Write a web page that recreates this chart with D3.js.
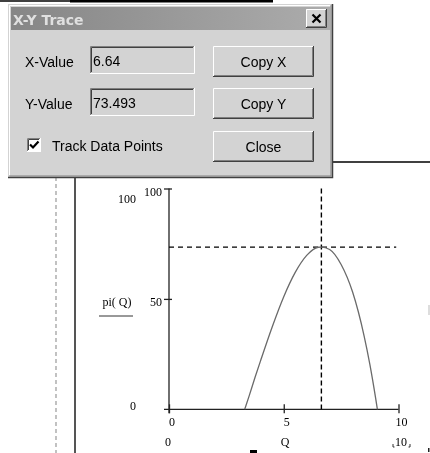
<!DOCTYPE html>
<html>
<head>
<meta charset="utf-8">
<script src="https://cdn.jsdelivr.net/npm/d3@7"></script>
<style>
  html, body { margin: 0; padding: 0; background: #fff; overflow: hidden; }
  svg { display: block; will-change: transform; }
  .dlg text { font-family: "Liberation Sans", Arial, sans-serif; font-size: 14px; fill: #000; }
  .math text { font-family: "Liberation Serif", "Times New Roman", serif; font-size: 12px; fill: #000; }
</style>
</head>
<body>
<svg id="c" width="430" height="453"></svg>
<script>
// Profit curve pi(Q), sampled over the range where it is non-negative
const qValues  = [3.30, 3.50, 3.75, 4.00, 4.50, 5.00, 5.50, 6.00, 6.50, 6.64, 7.00, 7.50, 8.00, 8.50, 8.75, 9.00, 9.08];
const piValues = [0.0,  6.3,  14.5, 22.3, 37.4, 51.0, 62.0, 69.7, 73.4, 73.493, 72.4, 65.6, 53.1, 33.3, 20.5, 5.3, 0.0];

const xTicks = [0, 5, 10];
const yTicks = [50, 100];
const xDomain = [0, 10];
const yDomain = [0, 100];

// Traced point shown in the X-Y Trace window
const traceX = 6.64;
const traceY = 73.493;

const dialogLabels = ["X-Value", "Y-Value"];
const dialogValues = ["6.64", "73.493"];
const buttonLabels = ["Copy X", "Copy Y", "Close"];

const svg = d3.select("#c");

// ---------- worksheet chrome behind the plot ----------
const page = svg.append("g");
page.append("line").attr("x1", 0).attr("x2", 70).attr("y1", 1).attr("y2", 1)
  .attr("stroke", "#000").attr("stroke-width", 1.5);
page.append("rect").attr("x", 70).attr("y", 0).attr("width", 203).attr("height", 2.5).attr("fill", "#000");
page.append("line").attr("x1", 333).attr("x2", 430).attr("y1", 162).attr("y2", 162)
  .attr("stroke", "#000").attr("stroke-width", 1.3);
page.append("line").attr("x1", 56).attr("x2", 56).attr("y1", 177).attr("y2", 453)
  .attr("stroke", "#999").attr("stroke-width", 1.2).attr("stroke-dasharray", "4,3");
page.append("line").attr("x1", 75).attr("x2", 75).attr("y1", 176).attr("y2", 453)
  .attr("stroke", "#555").attr("stroke-width", 2);
page.append("rect").attr("x", 250).attr("y", 450).attr("width", 7).attr("height", 3).attr("fill", "#000");
page.append("rect").attr("x", 428).attr("y", 448).attr("width", 1.5).attr("height", 4).attr("fill", "#222");
page.append("rect").attr("x", 428).attr("y", 305).attr("width", 2).attr("height", 10).attr("fill", "#ddd");

// ---------- plot ----------
const x = d3.scaleLinear().domain(xDomain).range([169, 398.5]);
const y = d3.scaleLinear().domain(yDomain).range([409.3, 188.5]);

const math = svg.append("g").attr("class", "math");

// X axis
const gx = math.append("g").attr("transform", `translate(0,${y(0)})`)
  .call(d3.axisBottom(x).tickValues(xTicks).tickSizeOuter(0).tickFormat(d3.format("d")));
gx.select(".domain").remove();
gx.selectAll(".tick line").attr("y1", -5).attr("y2", 4).attr("stroke", "#222").attr("stroke-width", 1.3);
gx.selectAll(".tick text").attr("x", 2.5).attr("y", 8).attr("dy", "0.71em")
  .attr("font-family", null).attr("font-size", null).attr("fill", "#000");
math.append("line").attr("x1", x(0) - 5).attr("x2", x(10)).attr("y1", y(0)).attr("y2", y(0))
  .attr("stroke", "#222").attr("stroke-width", 1.3);

// Y axis
const gy = math.append("g").attr("transform", `translate(${x(0)},0)`)
  .call(d3.axisLeft(y).tickValues(yTicks).tickSizeOuter(0).tickFormat(d3.format("d")));
gy.select(".domain").remove();
gy.selectAll(".tick line").attr("x1", 3).attr("x2", -5).attr("stroke", "#222").attr("stroke-width", 1.3);
gy.selectAll(".tick text").attr("x", -7).attr("dy", "0.55em")
  .attr("font-family", null).attr("font-size", null).attr("fill", "#000");
math.append("line").attr("x1", x(0)).attr("x2", x(0)).attr("y1", y(100)).attr("y2", y(0) + 4)
  .attr("stroke", "#222").attr("stroke-width", 1.3);

// Trace crosshair
math.append("line").attr("x1", x(0)).attr("x2", x(9.9)).attr("y1", y(traceY)).attr("y2", y(traceY))
  .attr("stroke", "#000").attr("stroke-width", 1.3).attr("stroke-dasharray", "5,4");
math.append("line").attr("x1", x(traceX)).attr("x2", x(traceX)).attr("y1", y(100)).attr("y2", y(0))
  .attr("stroke", "#000").attr("stroke-width", 1.4).attr("stroke-dasharray", "5,3");

// Curve
const pts = qValues.map((q, i) => [q, piValues[i]]);
math.append("path").datum(pts)
  .attr("fill", "none").attr("stroke", "#6a6a6a").attr("stroke-width", 1.3)
  .attr("d", d3.line().x(d => x(d[0])).y(d => y(d[1])).curve(d3.curveMonotoneX));

// Range placeholders and axis expressions
math.append("text").attr("x", 136).attr("y", 203).attr("text-anchor", "end").text(yDomain[1]);
math.append("text").attr("x", 136).attr("y", 410).attr("text-anchor", "end").text(yDomain[0]);
math.append("text").attr("x", 117).attr("y", 306).attr("text-anchor", "middle").text("pi( Q)");
math.append("line").attr("x1", 99).attr("x2", 133).attr("y1", 316).attr("y2", 316)
  .attr("stroke", "#333").attr("stroke-width", 1);
math.append("text").attr("x", x(xDomain[0]) - 1).attr("y", 446).attr("text-anchor", "middle").text(xDomain[0]);
math.append("text").attr("x", 285).attr("y", 446).attr("text-anchor", "middle").text("Q");
math.append("text").attr("x", 401).attr("y", 446).attr("text-anchor", "middle").text(xDomain[1]);
math.append("path").attr("d", "M393,444v3h1.5M410,444v3h-1.5").attr("fill", "none")
  .attr("stroke", "#333").attr("stroke-width", 1);

// ---------- X-Y Trace window ----------
const dlg = svg.append("g").attr("class", "dlg");
const face = "#d3d3d3";

function raised(g, bx, by, w, h) {
  g.append("rect").attr("x", bx).attr("y", by).attr("width", w).attr("height", h).attr("fill", face);
  g.append("path").attr("d", `M${bx + 0.5},${by + h - 1}V${by + 0.5}H${bx + w - 1}`).attr("stroke", "#fff").attr("fill", "none");
  g.append("path").attr("d", `M${bx},${by + h - 0.5}H${bx + w - 0.5}V${by}`).attr("stroke", "#404040").attr("fill", "none");
  g.append("path").attr("d", `M${bx + 1},${by + h - 1.5}H${bx + w - 1.5}V${by + 1}`).attr("stroke", "#808080").attr("fill", "none");
}
function sunken(g, bx, by, w, h, fill) {
  g.append("rect").attr("x", bx).attr("y", by).attr("width", w).attr("height", h).attr("fill", fill);
  g.append("path").attr("d", `M${bx + 0.5},${by + h - 1}V${by + 0.5}H${bx + w - 1}`).attr("stroke", "#808080").attr("fill", "none");
  g.append("path").attr("d", `M${bx + 1.5},${by + h - 2}V${by + 1.5}H${bx + w - 2}`).attr("stroke", "#404040").attr("fill", "none");
  g.append("path").attr("d", `M${bx},${by + h - 0.5}H${bx + w - 0.5}V${by}`).attr("stroke", "#fff").attr("fill", "none");
}

// frame
dlg.append("rect").attr("x", 8).attr("y", 4).attr("width", 325).attr("height", 174).attr("fill", face);
dlg.append("path").attr("d", "M9.5,177V5.5H331").attr("stroke", "#fff").attr("fill", "none");
dlg.append("path").attr("d", "M8,177.5H332.5V4").attr("stroke", "#404040").attr("stroke-width", 1.5).attr("fill", "none");
dlg.append("path").attr("d", "M9,176H331V5").attr("stroke", "#808080").attr("fill", "none");

// title bar
const grad = svg.append("defs").append("linearGradient").attr("id", "tb");
grad.append("stop").attr("offset", "0").attr("stop-color", "#868686");
grad.append("stop").attr("offset", "1").attr("stop-color", "#acacac");
dlg.append("rect").attr("x", 11).attr("y", 7).attr("width", 319).attr("height", 23).attr("fill", "url(#tb)");
dlg.append("text").attr("x", 13).attr("y", 25)
  .style("font-family", "'DejaVu Sans', Tahoma, sans-serif").style("font-weight", "bold")
  .style("font-size", "14px").style("fill", "#e0e0e0").text("X-Y Trace");
raised(dlg, 306, 9, 21, 19);
dlg.append("path").attr("d", "M312.5,14.5L320.5,22.5M320.5,14.5L312.5,22.5")
  .attr("stroke", "#000").attr("stroke-width", 2.2);

// value rows
const rowY = [46, 88];
dialogLabels.forEach((t, i) => {
  dlg.append("text").attr("x", 25).attr("y", rowY[i] + 21).text(t);
  sunken(dlg, 90, rowY[i], 105, 28, face);
  dlg.append("text").attr("x", 93).attr("y", rowY[i] + 20).text(dialogValues[i]);
});

// buttons
const btnY = [46, 88, 131];
buttonLabels.forEach((t, i) => {
  raised(dlg, 213, btnY[i], 101, 31);
  dlg.append("text").attr("x", 263.5).attr("y", btnY[i] + 21).attr("text-anchor", "middle").text(t);
});

// checkbox
sunken(dlg, 27, 138, 14, 14, "#fff");
dlg.append("path").attr("d", "M30,144.5L33,147.5L38.5,141.5").attr("stroke", "#000")
  .attr("stroke-width", 2.2).attr("fill", "none");
dlg.append("text").attr("x", 52).attr("y", 151).text("Track Data Points");
</script>
</body>
</html>
